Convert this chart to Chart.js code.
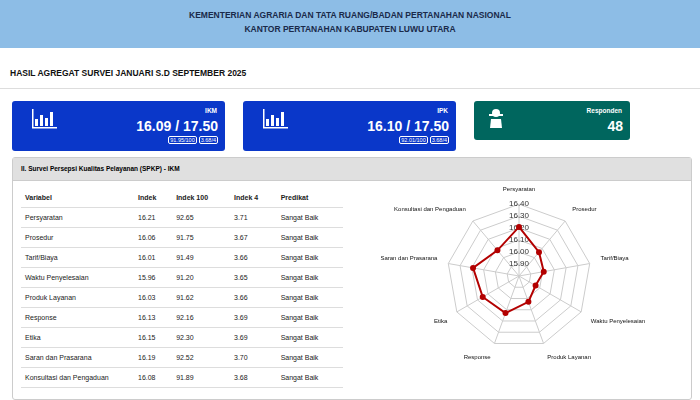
<!DOCTYPE html>
<html><head><meta charset="utf-8">
<script src="https://cdn.jsdelivr.net/npm/chart.js@4"></script>
<style>
body{margin:0;width:700px;height:400px;overflow:hidden;font-family:Arial,"Liberation Sans",sans-serif;background:#fff;position:relative}
.hdr{position:absolute;left:0;top:0;width:700px;height:48px;background:#8dbde6;text-align:center;font-weight:bold;font-size:8.5px;color:#1a2a4a;line-height:14px;padding-top:8px;box-sizing:border-box}
.sub{position:absolute;left:10px;top:68px;font-size:8.5px;font-weight:bold;color:#111}
.line{position:absolute;left:0;top:88px;width:700px;height:1px;background:#ddd}
.card{position:absolute;top:101px;height:50px;border-radius:3px;color:#fff}
.card .t{position:absolute;right:8px;top:6px;font-size:6.5px;font-weight:bold}
.card .v{position:absolute;right:7px;top:17px;font-size:14px;font-weight:bold}
.card .b{position:absolute;right:7px;top:36px;font-size:5.5px}
.card .b span{border:1px solid #fff;border-radius:2px;padding:0 1px;margin-left:2px}
.panel{position:absolute;left:12px;top:157px;width:678px;height:241px;border:1px solid #ccc;border-radius:3px}
.ph{height:22px;background:#e0e0e0;border-bottom:1px solid #ccc;font-size:6.5px;font-weight:bold;line-height:22px;padding-left:8px}
table{position:absolute;left:8px;top:30px;width:322px;border-collapse:collapse;font-size:7px;color:#222}
td,th{text-align:left;height:19px;padding:0 4px;border-bottom:1px solid #ddd}
th{height:19px;font-weight:bold}
#cv{position:absolute;left:369px;top:184px}
</style></head><body>
<div class="hdr">KEMENTERIAN AGRARIA DAN TATA RUANG/BADAN PERTANAHAN NASIONAL<br>KANTOR PERTANAHAN KABUPATEN LUWU UTARA</div>
<div class="sub">HASIL AGREGAT SURVEI JANUARI S.D SEPTEMBER 2025</div>
<div class="line"></div>
<div class="card" style="left:12px;width:213px;background:#0a37c9"><svg style="position:absolute;left:20px;top:8px" width="26" height="20"><rect x="3" y="10" width="3" height="7" fill="#fff"/><rect x="8" y="6" width="3" height="11" fill="#fff"/><rect x="13" y="9" width="3" height="8" fill="#fff"/><rect x="18" y="3" width="3" height="14" fill="#fff"/><rect x="0" y="0" width="1.5" height="19" fill="#fff"/><rect x="0" y="18" width="25" height="1.5" fill="#fff"/></svg><div class="t">IKM</div><div class="v">16.09 / 17.50</div><div class="b"><span>91.95/100</span><span>3.68/4</span></div></div>
<div class="card" style="left:243px;width:213px;background:#0a37c9"><svg style="position:absolute;left:20px;top:8px" width="26" height="20"><rect x="3" y="10" width="3" height="7" fill="#fff"/><rect x="8" y="6" width="3" height="11" fill="#fff"/><rect x="13" y="9" width="3" height="8" fill="#fff"/><rect x="18" y="3" width="3" height="14" fill="#fff"/><rect x="0" y="0" width="1.5" height="19" fill="#fff"/><rect x="0" y="18" width="25" height="1.5" fill="#fff"/></svg><div class="t">IPK</div><div class="v">16.10 / 17.50</div><div class="b"><span>92.01/100</span><span>3.68/4</span></div></div>
<div class="card" style="left:474px;width:156px;height:39px;background:#00665e"><svg style="position:absolute;left:15px;top:7px" width="14" height="20"><circle cx="7" cy="5" r="4" fill="#fff"/><rect x="0" y="6" width="14" height="2" fill="#fff"/><path d="M1 20 L2 11 L12 11 L13 20 Z" fill="#fff"/></svg><div class="t">Responden</div><div class="v" style="top:17px">48</div></div>
<div class="panel"><div class="ph">II. Survei Persepsi Kualitas Pelayanan (SPKP) - IKM</div>
<table id="tb"></table></div>
<canvas id="cv" width="300" height="180" style="width:300px;height:180px"></canvas>
<script>
const categories=["Persyaratan","Prosedur","Tarif/Biaya","Waktu Penyelesaian","Produk Layanan","Response","Etika","Saran dan Prasarana","Konsultasi dan Pengaduan"];
const indeks=[16.21,16.06,16.01,15.96,16.03,16.13,16.15,16.19,16.08];
const indeks100=[92.65,91.75,91.49,91.20,91.62,92.16,92.30,92.52,91.89];
const indeks4=[3.71,3.67,3.66,3.65,3.66,3.69,3.69,3.70,3.68];
const predikat="Sangat Baik";
let h='<tr><th style="width:105px">Variabel</th><th>Indek</th><th>Indek 100</th><th>Indek 4</th><th>Predikat</th></tr>';
categories.forEach((c,i)=>{h+=`<tr><td>${c}</td><td>${indeks[i].toFixed(2)}</td><td>${indeks100[i].toFixed(2)}</td><td>${indeks4[i].toFixed(2)}</td><td>${predikat}</td></tr>`});
document.getElementById('tb').innerHTML=h;
new Chart(document.getElementById('cv'),{type:'radar',data:{labels:categories,datasets:[{data:indeks,borderColor:'#b30000',backgroundColor:'transparent',borderWidth:2,pointRadius:2,pointBackgroundColor:'#b30000'}]},
options:{responsive:false,animation:false,plugins:{legend:{display:false},tooltip:{enabled:false}},
scales:{r:{min:15.8,max:16.4,ticks:{stepSize:0.1,callback:v=>v<=15.81?'':v.toFixed(2),font:{size:8},color:'#333',backdropColor:'transparent'},grid:{color:'#ccc'},angleLines:{color:'#ccc'},pointLabels:{font:{size:6},color:'#111'}}}}});
</script></body></html>
